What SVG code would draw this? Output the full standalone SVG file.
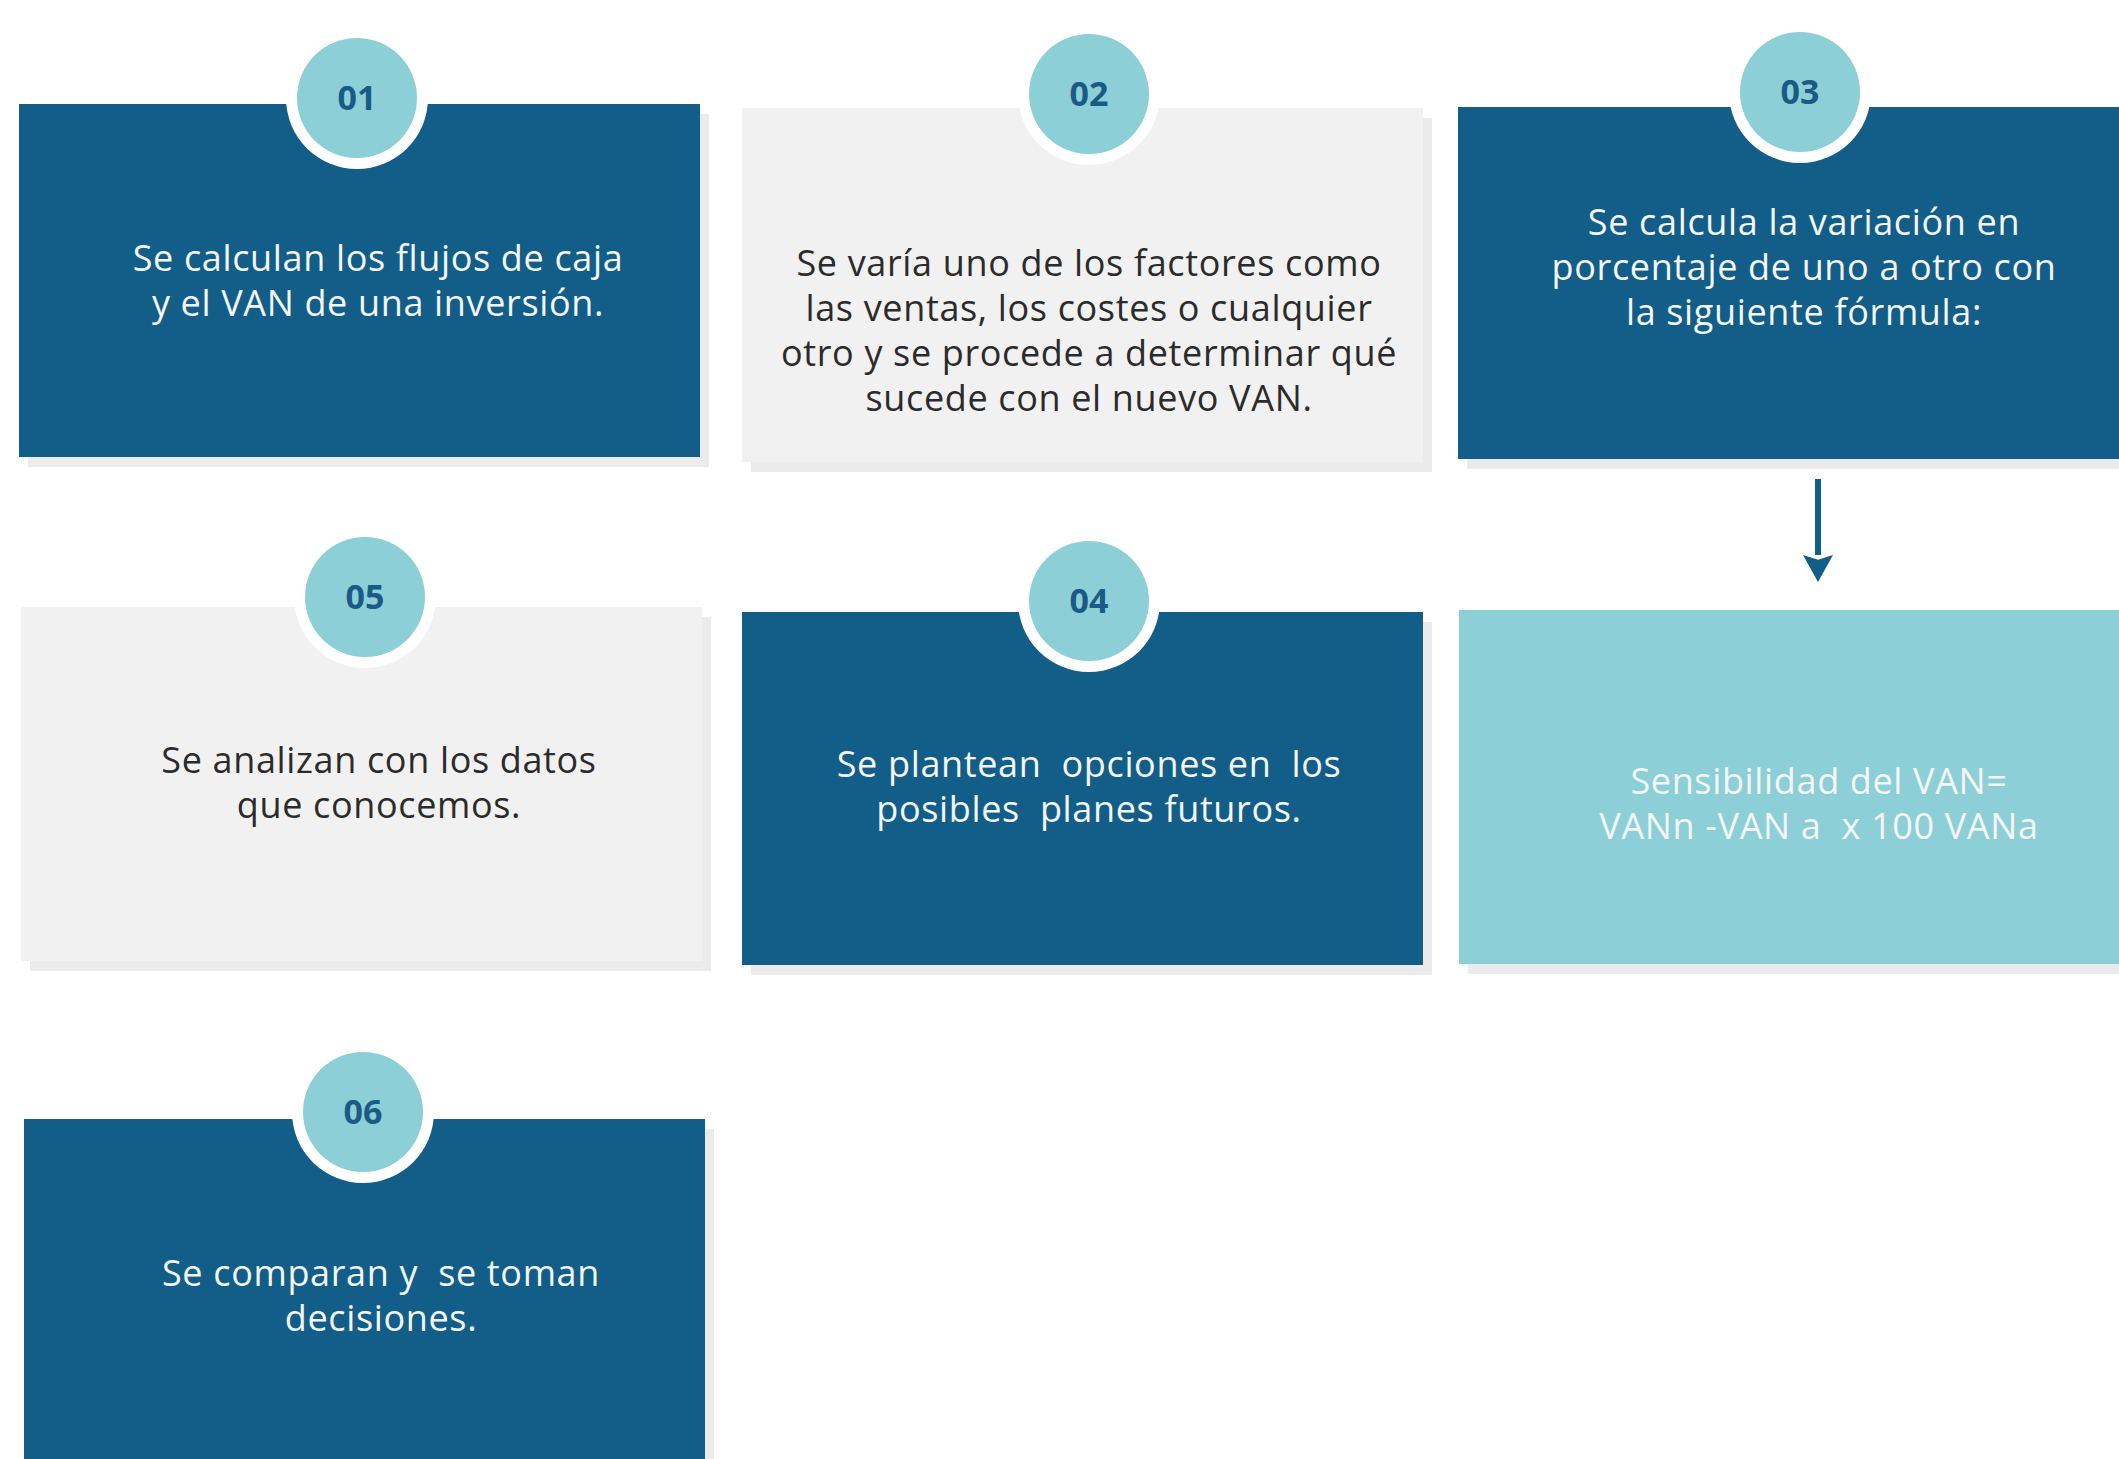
<svg xmlns="http://www.w3.org/2000/svg" width="2119" height="1459" viewBox="0 0 2119 1459">
  <style>
    .dark { fill: #125e89; }
    .light { fill: #f1f1f1; }
    .teal { fill: #8dcfd6; }
    .shadow { fill: #ebebeb; }
    .ring { fill: #ffffff; }
    .badge { fill: #8dcfd6; }
    .num { font-family: "Open Sans", "Noto Sans", sans-serif; font-weight: 700; font-size: 34px; fill: #1a5a86; text-anchor: middle; }
    .tw { font-family: "Open Sans", "Noto Sans", sans-serif; font-size: 36px; letter-spacing: 0.65px; fill: #f4f6f8; text-anchor: middle; white-space: pre; }
    .tk { font-family: "Open Sans", "Noto Sans", sans-serif; font-size: 36px; letter-spacing: 0.65px; fill: #2b2b2b; text-anchor: middle; white-space: pre; }
    .conn { stroke: #125e89; stroke-width: 6; fill: none; }
  </style>
  <defs>
    <marker id="arrow" markerWidth="4.5" markerHeight="5" refX="0" refY="2.5" orient="auto" markerUnits="strokeWidth">
      <path d="M0,0 L4.5,2.5 L0,5 L0.8,2.5 Z" fill="#125e89"/>
    </marker>
  </defs>
  <rect width="2119" height="1459" fill="#ffffff"/>

  <g id="node-01">
    <rect class="shadow" x="28" y="114" width="681" height="353"/>
    <rect class="dark" x="19" y="104" width="681" height="353"/>
    <circle class="ring" cx="357" cy="98" r="71"/>
    <circle class="badge" cx="357" cy="98" r="60"/>
    <text class="num" x="357" y="110">01</text>
    <text class="tw" x="378" y="271">Se calculan los flujos de caja</text>
    <text class="tw" x="378" y="316">y el VAN de una inversión.</text>
  </g>

  <g id="node-02">
    <rect class="shadow" x="751" y="118" width="681" height="354"/>
    <rect class="light" x="742" y="108" width="681" height="354"/>
    <circle class="ring" cx="1089" cy="94" r="71"/>
    <circle class="badge" cx="1089" cy="94" r="60"/>
    <text class="num" x="1089" y="106">02</text>
    <text class="tk" x="1089" y="276">Se varía uno de los factores como</text>
    <text class="tk" x="1089" y="321">las ventas, los costes o cualquier</text>
    <text class="tk" x="1089" y="366">otro y se procede a determinar qué</text>
    <text class="tk" x="1089" y="411">sucede con el nuevo VAN.</text>
  </g>

  <g id="node-03">
    <rect class="shadow" x="1467" y="117" width="700" height="352"/>
    <rect class="dark" x="1458" y="107" width="700" height="352"/>
    <circle class="ring" cx="1800" cy="92" r="71"/>
    <circle class="badge" cx="1800" cy="92" r="60"/>
    <text class="num" x="1800" y="104">03</text>
    <text class="tw" x="1804" y="235">Se calcula la variación en</text>
    <text class="tw" x="1804" y="280">porcentaje de uno a otro con</text>
    <text class="tw" x="1804" y="325">la siguiente fórmula:</text>
  </g>

  <g id="node-formula">
    <rect class="shadow" x="1468" y="620" width="700" height="354"/>
    <rect class="teal" x="1459" y="610" width="700" height="354"/>
    <text class="tw" x="1819" y="794">Sensibilidad del VAN=</text>
    <text class="tw" x="1819" y="839">VANn -VAN a  x 100 VANa</text>
  </g>

  <g id="node-05">
    <rect class="shadow" x="30" y="617" width="681" height="354"/>
    <rect class="light" x="21" y="607" width="681" height="354"/>
    <circle class="ring" cx="365" cy="597" r="71"/>
    <circle class="badge" cx="365" cy="597" r="60"/>
    <text class="num" x="365" y="609">05</text>
    <text class="tk" x="379" y="773">Se analizan con los datos</text>
    <text class="tk" x="379" y="818">que conocemos.</text>
  </g>

  <g id="node-04">
    <rect class="shadow" x="751" y="622" width="681" height="353"/>
    <rect class="dark" x="742" y="612" width="681" height="353"/>
    <circle class="ring" cx="1089" cy="601" r="71"/>
    <circle class="badge" cx="1089" cy="601" r="60"/>
    <text class="num" x="1089" y="613">04</text>
    <text class="tw" x="1089" y="777">Se plantean  opciones en  los</text>
    <text class="tw" x="1089" y="822">posibles  planes futuros.</text>
  </g>

  <g id="node-06">
    <rect class="shadow" x="33" y="1129" width="681" height="400"/>
    <rect class="dark" x="24" y="1119" width="681" height="400"/>
    <circle class="ring" cx="363" cy="1112" r="71"/>
    <circle class="badge" cx="363" cy="1112" r="60"/>
    <text class="num" x="363" y="1124">06</text>
    <text class="tw" x="381" y="1286">Se comparan y  se toman</text>
    <text class="tw" x="381" y="1331">decisiones.</text>
  </g>

  <g id="connectors">
    <line class="conn" x1="1818" y1="479" x2="1818" y2="555" marker-end="url(#arrow)"/>
  </g>
</svg>
